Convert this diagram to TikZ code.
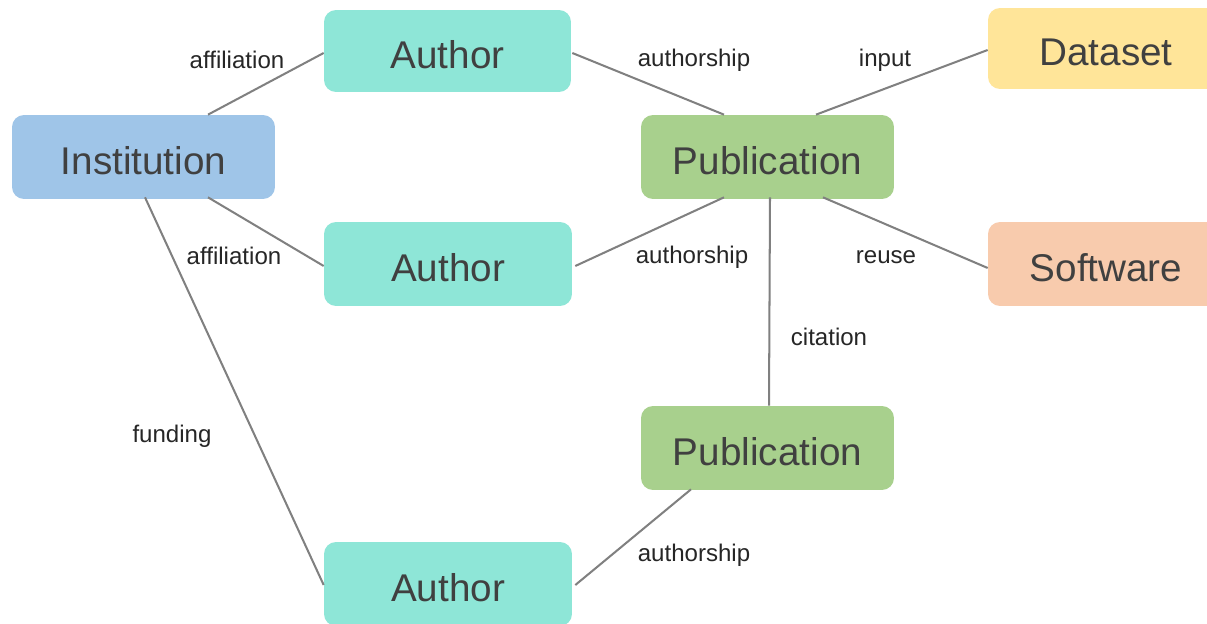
\documentclass[tikz,border=0pt]{standalone}
\usepackage{fontspec}
\setmainfont{Liberation Sans}
\usetikzlibrary{calc}
\definecolor{authc}{HTML}{8EE6D7}
\definecolor{instc}{HTML}{9FC5E8}
\definecolor{pubc}{HTML}{A8D08D}
\definecolor{datac}{HTML}{FFE599}
\definecolor{softc}{HTML}{F8CBAD}
\definecolor{ink}{HTML}{404040}
\definecolor{lblc}{HTML}{262626}
\definecolor{linec}{HTML}{808080}
\tikzset{
  entity/.style={rounded corners=0.24cm, inner sep=0pt, minimum height=1.68cm,
    text height=24pt, text depth=4.6pt,
    font=\fontsize{22}{26}\selectfont, text=ink},
  rel/.style={font=\fontsize{13.7}{16}\selectfont, text=lblc, inner sep=0pt},
  conn/.style={draw=linec, line width=1.15pt}
}
\begin{document}
\begin{tikzpicture}[x=0.02cm,y=-0.02cm]
\clip (0,0) rectangle (1207,624);
\fill[white] (0,0) rectangle (1207,624);
% nodes
\node[entity, fill=instc, minimum width=5.26cm] (inst) at (143.5,157) {Institution};
\node[entity, fill=authc, minimum width=4.94cm, minimum height=1.64cm] (a1) at (447.5,51) {Author};
\node[entity, fill=authc, minimum width=4.96cm] (a2) at (448,264) {Author};
\node[entity, fill=authc, minimum width=4.96cm] (a3) at (448,584) {Author};
\node[entity, fill=pubc, minimum width=5.06cm] (p1) at (767.5,157) {Publication};
\node[entity, fill=pubc, minimum width=5.06cm] (p2) at (767.5,448) {Publication};
\node[entity, fill=datac, minimum width=4.72cm, minimum height=1.62cm] (ds) at (1106,48.5) {Dataset};
\node[entity, fill=softc, minimum width=4.72cm] (sw) at (1106,264) {Software};
% connectors
\draw[conn] ($(inst.north)+(64.5,0)$) -- ($(a1.west)+(0,2)$);
\draw[conn] ($(inst.south)+(64.5,-2)$) -- ($(a2.west)+(0,2)$);
\draw[conn] ($(inst.south)+(1.5,-2)$) -- ($(a3.west)+(0,1)$);
\draw[conn] ($(a1.east)+(1,2)$) -- ($(p1.north)+(-43.5,0)$);
\draw[conn] ($(a2.east)+(3,2)$) -- ($(p1.south)+(-43.5,-2)$);
\draw[conn] ($(p1.north)+(48.5,0)$) -- ($(ds.west)+(0,1.5)$);
\draw[conn] ($(p1.south)+(55.5,-2)$) -- ($(sw.west)+(0,4)$);
\draw[conn] ($(p1.south)+(2.5,-2)$) -- ($(p2.north)+(1.5,0)$);
\draw[conn] ($(a3.east)+(3,1)$) -- ($(p2.south)+(-76.5,-1)$);
% labels
\node[rel] (l1) at (237,60) {affiliation};
\node[rel] (l2) at (234,256) {affiliation};
\node[rel] (l3) at (172,436) {funding};
\node[rel] (l4) at (694,60) {authorship};
\node[rel] (l5) at (885,60) {input};
\node[rel] (l6) at (692,257) {authorship};
\node[rel] (l7) at (886,257) {reuse};
\node[rel] (l8) at (829,337) {citation};
\node[rel] (l9) at (694,555) {authorship};
\end{tikzpicture}
\end{document}
